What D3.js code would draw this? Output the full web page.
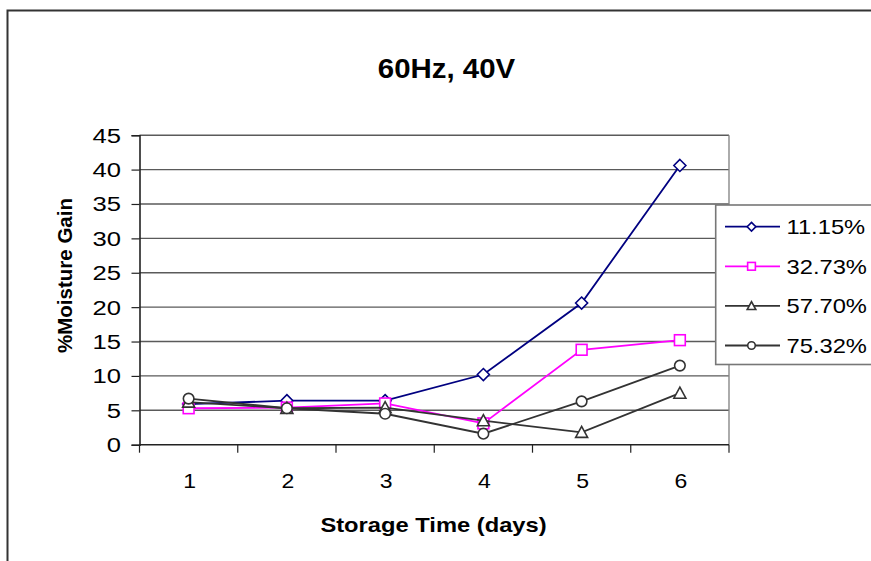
<!DOCTYPE html>
<html>
<head>
<meta charset="utf-8">
<script src="https://cdn.jsdelivr.net/npm/d3@7"></script>
<style>
  body { margin: 0; background: #fff; }
  text { font-family: "Liberation Sans", Arial, sans-serif; fill: #000; }
</style>
</head>
<body>
<div id="chart"></div>
<script>
// data
var days = [1, 2, 3, 4, 5, 6];
var seriesNames = ["11.15%", "32.73%", "57.70%", "75.32%"];
var rh1115 = [5.9, 6.4, 6.4, 10.2, 20.6, 40.6];
var rh3273 = [5.3, 5.4, 6.0, 3.1, 13.8, 15.2];
var rh5770 = [6.2, 5.3, 5.4, 3.5, 1.8, 7.5];
var rh7532 = [6.7, 5.3, 4.5, 1.6, 6.3, 11.5];
var yTicks = [0, 5, 10, 15, 20, 25, 30, 35, 40, 45];

var W = 871, H = 561;
var colors = ["#000080", "#ff00ff", "#333333", "#333333"];
var shapes = ["diamond", "square", "triangle", "circle"];
var allSeries = [rh1115, rh3273, rh5770, rh7532];

var svg = d3.select("#chart").append("svg")
  .attr("width", W).attr("height", H);

// outer chart frame (cut off right/bottom)
svg.append("path")
  .attr("d", "M7.5," + (H + 5) + "V10.5H" + (W + 5))
  .attr("fill", "none").attr("stroke", "#333").attr("stroke-width", 2);

var x = d3.scaleBand().domain(days).range([139.5, 729]);
var y = d3.scaleLinear().domain([0, 45]).range([444.7, 135.2]);

// text helper, the picture is a bit stretched sideways
function txt(g, s, px, py, size, sx, anchor, bold) {
  return g.append("text")
    .attr("transform", "translate(" + px + "," + py + ") scale(" + sx + ",1)")
    .attr("text-anchor", anchor)
    .style("font-size", size + "px")
    .style("font-weight", bold ? "bold" : "normal")
    .text(s);
}

// gridlines
svg.append("g").selectAll("line")
  .data(yTicks.filter(d => d > 0))
  .enter().append("line")
  .attr("x1", 139.5).attr("x2", 729)
  .attr("y1", d => y(d)).attr("y2", d => y(d))
  .attr("stroke", "#5a5a5a").attr("stroke-width", 1.4);

// right border of plot area
svg.append("line")
  .attr("x1", 729).attr("x2", 729)
  .attr("y1", y(45)).attr("y2", y(0))
  .attr("stroke", "#888").attr("stroke-width", 1.4);

// y axis
var yAxis = svg.append("g")
  .attr("transform", "translate(139.5,0)")
  .call(d3.axisLeft(y).tickValues(yTicks).tickSize(8).tickFormat(""));
yAxis.select(".domain").attr("stroke", "#222").attr("stroke-width", 1.6);
yAxis.selectAll(".tick line").attr("stroke", "#222").attr("stroke-width", 1.2);
yTicks.forEach(function (t) {
  txt(svg, t, 121, y(t) + 7.5, 21, 1.22, "end", false);
});

// x axis, ticks between categories
svg.append("line")
  .attr("x1", 139.5).attr("x2", 729)
  .attr("y1", y(0)).attr("y2", y(0))
  .attr("stroke", "#222").attr("stroke-width", 1.6);
var bounds = [x.range()[0]].concat(days.map(d => x(d) + x.bandwidth()));
svg.append("g").selectAll("line")
  .data(bounds).enter().append("line")
  .attr("x1", d => d).attr("x2", d => d)
  .attr("y1", y(0)).attr("y2", y(0) + 8)
  .attr("stroke", "#222").attr("stroke-width", 1.2);
days.forEach(function (d) {
  txt(svg, d, x(d) + x.bandwidth() / 2 + 1, 488, 20, 1.15, "middle", false);
});

// titles
txt(svg, "60Hz, 40V", 446.5, 78, 27, 1.09, "middle", true);
txt(svg, "Storage Time (days)", 433.5, 532, 21, 1.13, "middle", true);
svg.append("text")
  .attr("transform", "translate(72,275.5) rotate(-90)")
  .attr("text-anchor", "middle")
  .style("font-size", "20.5px").style("font-weight", "bold")
  .text("%Moisture Gain");

function marker(g, shape, cx, cy, s, col) {
  var p;
  if (shape == "diamond") {
    p = g.append("path").attr("d", "M" + cx + "," + (cy - s) + "L" + (cx + s) + "," + cy +
      "L" + cx + "," + (cy + s) + "L" + (cx - s) + "," + cy + "Z");
  } else if (shape == "square") {
    var h = s * 0.9;
    p = g.append("rect").attr("x", cx - h).attr("y", cy - h).attr("width", 2 * h).attr("height", 2 * h);
  } else if (shape == "triangle") {
    p = g.append("path").attr("d", "M" + cx + "," + (cy - s) + "L" + (cx + s) + "," + (cy + s * 0.85) +
      "L" + (cx - s) + "," + (cy + s * 0.85) + "Z");
  } else {
    p = g.append("circle").attr("cx", cx).attr("cy", cy).attr("r", s * 0.88);
  }
  p.attr("fill", "#fff").attr("stroke", col).attr("stroke-width", 1.6);
}

var cx = d => x(d) + x.bandwidth() / 2;
var line = d3.line().x((v, i) => cx(days[i])).y(v => y(v));

allSeries.forEach(function (vals, k) {
  var g = svg.append("g");
  g.append("path").attr("d", line(vals))
    .attr("fill", "none").attr("stroke", colors[k]).attr("stroke-width", 1.8);
  vals.forEach(function (v, i) {
    marker(g, shapes[k], cx(days[i]), y(v), 6, colors[k]);
  });
});

// legend
var leg = svg.append("g");
leg.append("rect")
  .attr("x", 715.7).attr("y", 205).attr("width", 170).attr("height", 159.5)
  .attr("fill", "#fff").attr("stroke", "#777").attr("stroke-width", 1.6);
seriesNames.forEach(function (n, k) {
  var ly = 226.7 + k * 39.6;
  leg.append("line").attr("x1", 725).attr("x2", 780).attr("y1", ly).attr("y2", ly)
    .attr("stroke", colors[k]).attr("stroke-width", 1.8);
  marker(leg, shapes[k], 751.5, ly, 4.3, colors[k]);
  txt(leg, n, 786.5, ly + 7.5, 21, 1.13, "start", false);
});
</script>
</body>
</html>
